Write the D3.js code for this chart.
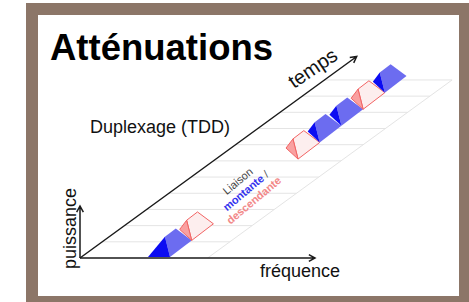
<!DOCTYPE html>
<html lang="fr">
<head>
<meta charset="UTF-8">
<script src="https://d3js.org/d3.v7.min.js"></script>
<title>Duplexage TDD</title>
<style>
  body { margin: 0; background: #fff; }
  svg { display: block; font-family: "Liberation Sans", Arial, sans-serif; }
</style>
</head>
<body>
<svg id="chart" width="469" height="302"></svg>
<script>
// texts
const title = "Atténuations";
const subtitle = "Duplexage (TDD)";
const axisLabels = { f: "fréquence", p: "puissance", t: "temps" };

// bursts along the time axis (slot index), montante = uplink, descendante = downlink
const burstSlots = [0, 1, 5.9, 6.9, 7.9, 8.9, 9.9];
const burstKinds = ["montante", "descendante", "descendante", "montante", "montante", "descendante", "montante"];

// grid rows (slot index along time) and grid width (fraction of frequency axis)
const gridRows = [1, 2, 3, 4, 5, 6, 7, 8, 9, 10, 11];
const gridWidth = 0.543;
const timeLength = 12.45; // slots

const svg = d3.select("#chart");

// frame
svg.append("rect").attr("x", 26).attr("y", 3).attr("width", 446).attr("height", 306).attr("fill", "#8c7668");
svg.append("rect").attr("x", 38).attr("y", 15).attr("width", 421).attr("height", 281).attr("fill", "#fff");

// oblique projection: frequency to the right, time up-right
const X0 = 80, Y0 = 258;
const fScale = d3.scaleLinear().domain([0, 1]).range([0, 235]);
const tScale = d3.scaleLinear().domain([0, 1]).range([0, 27.5]);
const ux = 276 / 341.5, uy = -201 / 341.5;
function proj(f, t) {
  const d = tScale(t);
  return [X0 + fScale(f) + d * ux, Y0 + d * uy];
}

// grid
const grid = svg.append("g").attr("stroke", "#e4e4e4").attr("stroke-width", 1).attr("fill", "none");
grid.selectAll("line.row")
  .data(gridRows)
  .join("line")
  .attr("class", "row")
  .attr("x1", d => proj(0, d)[0]).attr("y1", d => proj(0, d)[1])
  .attr("x2", d => proj(gridWidth, d)[0]).attr("y2", d => proj(gridWidth, d)[1]);
grid.append("line")
  .attr("x1", proj(gridWidth, 0)[0]).attr("y1", proj(gridWidth, 0)[1])
  .attr("x2", proj(gridWidth, d3.max(gridRows))[0]).attr("y2", proj(gridWidth, d3.max(gridRows))[1]);

// bursts
const bX = d3.scaleLinear().domain([0, 10]).range([170, 387]);
const bY = d3.scaleLinear().domain([0, 10]).range([257, 91]);
const ramp = 0.25, P = [-10.5, -16], F = [-12, -11];
const colors = {
  montante: { side: "#0c0cf2", top: "#6c6cf0", stroke: "none" },
  descendante: { side: "#f9a0a0", top: "#fdeeee", stroke: "#f26464" }
};

const bursts = burstSlots.map((k, i) => {
  const c = [bX(k), bY(k)];
  const e = [bX(k + 1), bY(k + 1)];
  const s = [e[0] - c[0], e[1] - c[1]];
  const b = [c[0] + ramp * s[0] + P[0], c[1] + ramp * s[1] + P[1]];
  const dd = [c[0] + (1 - ramp) * s[0] + P[0], c[1] + (1 - ramp) * s[1] + P[1]];
  // the first burst sits on the frequency axis, its side face runs down to it
  const a = i === 0 ? [c[0] - 22, c[1]] : [c[0] + F[0], c[1] + F[1]];
  return { kind: burstKinds[i], side: [a, b, c], top: [b, dd, e, c] };
});

const line = d3.line();
const g = svg.append("g");
bursts.forEach(d => {
  const col = colors[d.kind];
  g.append("path").attr("d", line(d.top) + "Z")
    .attr("fill", col.top).attr("stroke", col.stroke).attr("stroke-width", 1).attr("stroke-linejoin", "round");
  g.append("path").attr("d", line(d.side) + "Z")
    .attr("fill", col.side).attr("stroke", col.stroke).attr("stroke-width", 1).attr("stroke-linejoin", "round");
});

// axes with arrows
function arrow(x1, y1, x2, y2) {
  const ang = Math.atan2(y2 - y1, x2 - x1), L = 7, Wd = 0.5;
  const p1 = [x2 - L * Math.cos(ang - Wd), y2 - L * Math.sin(ang - Wd)];
  const p2 = [x2 - L * Math.cos(ang + Wd), y2 - L * Math.sin(ang + Wd)];
  svg.append("path")
    .attr("d", `M${x1},${y1}L${x2},${y2}M${p1}L${x2},${y2}L${p2}`)
    .attr("fill", "none").attr("stroke", "#1a1a1a").attr("stroke-width", 1.5);
}
const tEnd = proj(0, timeLength);
arrow(X0, Y0, X0 + fScale(1), Y0);
arrow(X0, Y0, X0, 206);
arrow(X0, Y0, tEnd[0], tEnd[1]);

// texts
svg.append("text").attr("x", 50).attr("y", 60).attr("font-size", 36.5).attr("font-weight", "bold")
  .attr("fill", "#000").text(title);
svg.append("text").attr("x", 90).attr("y", 133).attr("font-size", 18).attr("fill", "#111").text(subtitle);
svg.append("text").attr("x", 260).attr("y", 277).attr("font-size", 18).attr("fill", "#111").text(axisLabels.f);
svg.append("text").attr("transform", "translate(76,269) rotate(-90)").attr("font-size", 18)
  .attr("fill", "#111").text(axisLabels.p);
svg.append("text").attr("transform", "translate(294,89) rotate(-34)").attr("font-size", 20)
  .attr("fill", "#111").text(axisLabels.t);

const leg = svg.append("g").attr("transform", "translate(246,191) rotate(-40)")
  .attr("text-anchor", "middle").attr("font-size", 11);
leg.append("text").attr("y", -9).attr("fill", "#444").text("Liaison");
const mid = leg.append("text").attr("y", 3.5).attr("font-weight", "bold");
mid.append("tspan").attr("fill", "#3434ee").text("montante");
mid.append("tspan").attr("fill", "#555").attr("font-weight", "normal").text(" /");
leg.append("text").attr("y", 16).attr("font-weight", "bold").attr("fill", "#f28888").text("descendante");
</script>
</body>
</html>
